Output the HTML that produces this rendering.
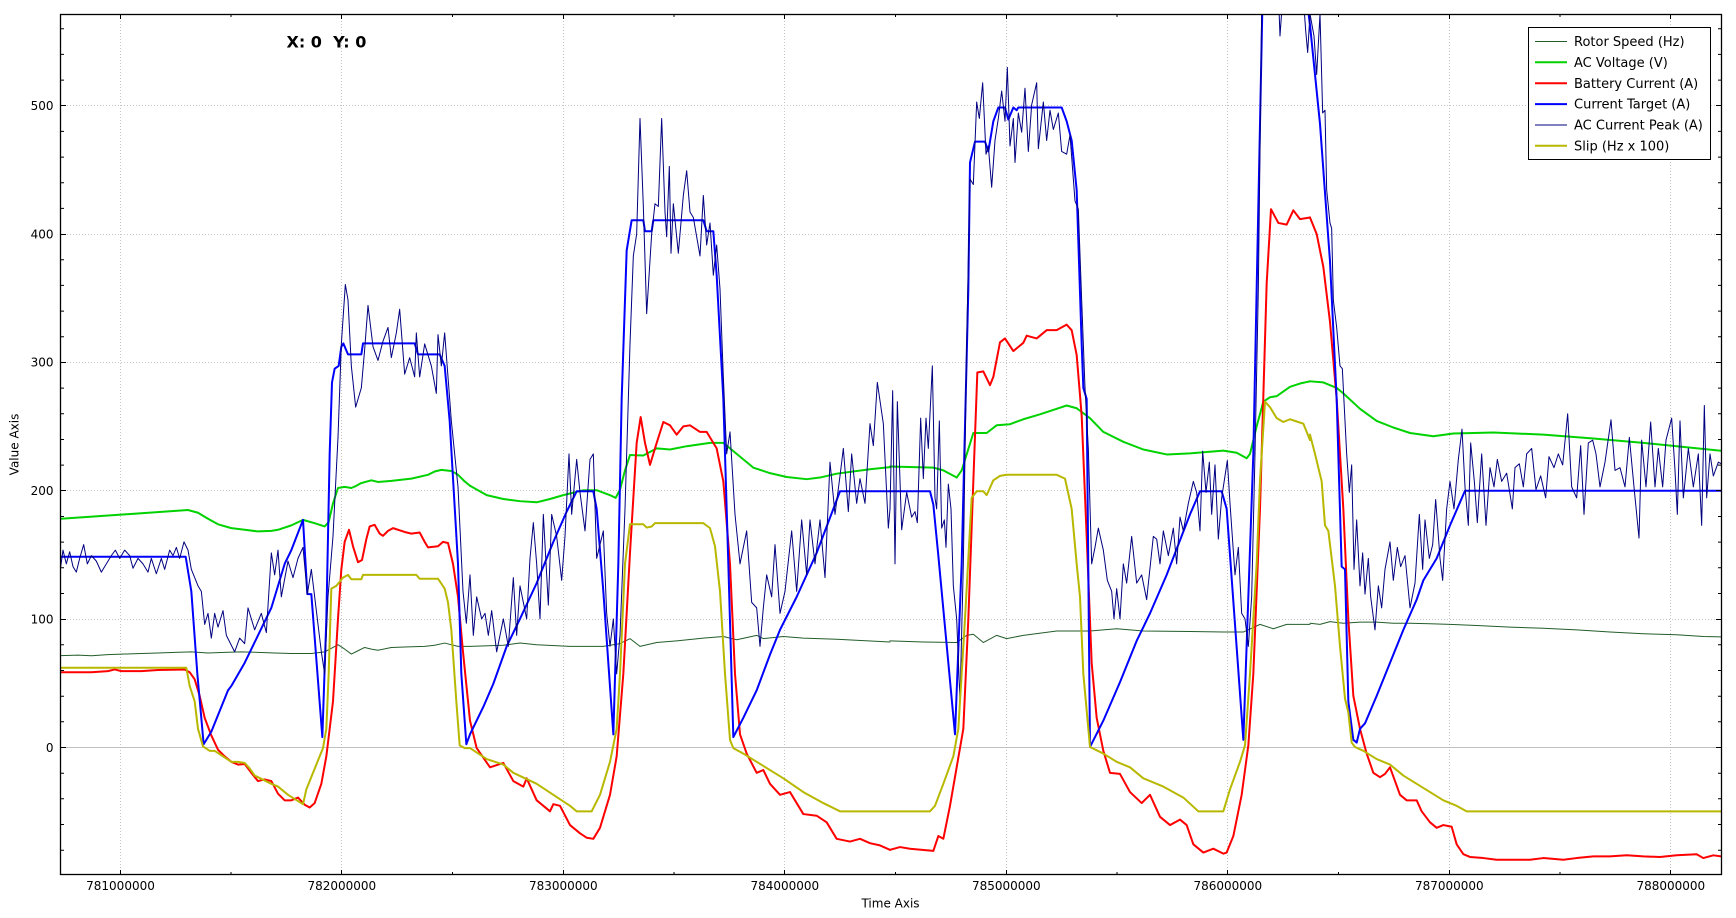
<!DOCTYPE html>
<html><head><meta charset="utf-8"><style>
html,body{margin:0;padding:0;background:#fff;}
svg{display:block;}
text{font-family:"DejaVu Sans","Liberation Sans",sans-serif;fill:#000;}
</style></head><body>
<svg width="1736" height="918" viewBox="0 0 1736 918" xmlns="http://www.w3.org/2000/svg">
<defs><clipPath id="pc"><rect x="61" y="15" width="1660" height="860"/></clipPath></defs>
<rect x="0" y="0" width="1736" height="918" fill="#fff"/>
<!-- grid -->
<g stroke="#c4c4c4" stroke-width="1" stroke-dasharray="1 2" fill="none">
<path d="M120.5 15V875M341.5 15V875M563.5 15V875M784.5 15V875M1006.5 15V875M1227.5 15V875M1449.5 15V875M1670.5 15V875"/>
<path d="M61 619.5H1721M61 490.5H1721M61 362.5H1721M61 234.5H1721M61 105.5H1721"/>
</g>
<path d="M61 747.5H1721" stroke="#c0c0c0" stroke-width="1"/>
<!-- series -->
<g clip-path="url(#pc)" fill="none" stroke-linejoin="round" stroke-linecap="round">
<!-- Region A -->
<g transform="translate(58,14) scale(0.333333,0.549873)">
<polyline vector-effect="non-scaling-stroke" stroke="#235d2a" stroke-width="1" points="7,1167 60,1166 100,1167 150,1165 200,1164 250,1163 300,1162 350,1161 400,1160 450,1162 500,1161 550,1160 600,1161 650,1162 700,1163 760,1163 800,1160 825,1152 840,1147 860,1155 880,1164 900,1158 920,1152 940,1155 960,1157 1000,1152 1050,1151 1100,1150 1130,1148 1160,1144 1200,1150 1236,1150"/>
<polyline vector-effect="non-scaling-stroke" stroke="#00d200" stroke-width="2" points="7,918 200,910 390,902 420,907 450,918 480,928 520,935 560,938 600,941 640,940 660,938 700,930 735,920 770,926 800,932 812,924 825,890 840,862 860,860 880,862 895,858 910,853 940,848 960,851 1000,849 1060,845 1110,838 1130,832 1150,829 1180,831 1200,838 1220,850 1236,858"/>
<polyline vector-effect="non-scaling-stroke" stroke="#ff0000" stroke-width="2" points="7,1197 100,1197 150,1195 170,1192 190,1195 250,1195 300,1193 380,1192 395,1197 410,1210 425,1240 440,1280 460,1312 480,1338 500,1350 520,1360 540,1365 560,1364 580,1380 600,1395 620,1392 640,1395 660,1418 680,1430 700,1430 720,1425 740,1438 755,1443 770,1435 790,1400 805,1350 815,1300 825,1250 840,1100 850,1010 860,960 873,938 885,968 900,997 912,993 925,955 935,932 950,929 965,945 975,949 990,940 1005,935 1040,942 1060,945 1085,943 1100,960 1110,970 1140,968 1155,960 1170,962 1185,1000 1200,1060 1215,1160 1236,1285"/>
<polyline vector-effect="non-scaling-stroke" stroke="#0000ff" stroke-width="2" points="7,987 383,987 400,1050 418,1200 437,1328 460,1305 490,1260 510,1230 520,1222 560,1180 640,1080 680,1000 700,975 735,920 748,1055 760,1055 793,1315 805,1100 815,800 822,670 830,645 842,640 850,605 856,599 870,619 910,619 915,599 1070,599 1080,619 1145,619 1160,640 1175,740 1200,1000 1210,1200 1225,1328 1236,1310"/>
<polyline vector-effect="non-scaling-stroke" stroke="#000080" stroke-width="1" points="7,1010 15,975 25,1000 35,978 45,1005 55,1015 65,990 77,965 88,1000 100,985 115,995 130,1015 145,1000 160,985 172,975 185,990 200,975 215,985 225,1008 240,990 255,1000 270,1015 280,990 295,1018 310,990 320,1010 335,975 345,985 355,970 365,990 378,960 390,975 400,1010 420,1040 430,1050 440,1110 450,1090 460,1135 470,1090 480,1115 495,1085 505,1130 530,1160 545,1135 560,1145 570,1080 590,1120 610,1090 625,1125 640,980 650,1020 660,975 670,1060 690,995 705,1025 720,990 735,970 748,1055 760,1010 770,1060 790,1160 800,1200 810,1060 825,950 840,770 850,600 862,492 870,520 880,640 893,715 910,680 920,610 930,530 945,605 960,630 975,595 990,570 1000,625 1015,580 1025,537 1040,655 1055,625 1070,660 1075,580 1085,660 1100,600 1120,640 1135,690 1140,583 1150,640 1160,580 1180,740 1200,860 1215,1050 1225,1108 1236,1020"/>
<polyline vector-effect="non-scaling-stroke" stroke="#b8b800" stroke-width="2" points="7,1189 385,1189 395,1222 410,1250 420,1300 435,1332 455,1340 470,1340 490,1348 520,1360 540,1360 560,1362 575,1372 590,1385 640,1400 660,1405 690,1420 735,1437 745,1410 765,1380 795,1335 805,1300 812,1200 820,1045 835,1040 855,1025 870,1020 880,1028 910,1028 915,1020 1075,1020 1085,1027 1140,1027 1160,1045 1170,1070 1180,1120 1195,1250 1205,1330 1220,1335 1236,1335"/>
</g>
<!-- Region B -->
<g transform="translate(470,14) scale(0.333333,0.549873)">
<polyline vector-effect="non-scaling-stroke" stroke="#235d2a" stroke-width="1" points="0,1150 100,1148 150,1144 200,1147 300,1150 400,1150 450,1145 480,1136 510,1150 560,1143 620,1140 700,1135 760,1132 800,1138 860,1130 880,1136 940,1132 1000,1135 1100,1137 1260,1142"/>
<polyline vector-effect="non-scaling-stroke" stroke="#00d200" stroke-width="2" points="0,858 50,875 100,882 150,886 200,888 240,882 280,875 340,866 380,866 420,875 437,880 450,865 465,830 480,802 520,803 560,790 600,792 650,786 720,780 760,780 800,800 850,825 900,835 950,842 1010,846 1050,843 1100,836 1200,828 1260,824"/>
<polyline vector-effect="non-scaling-stroke" stroke="#ff0000" stroke-width="2" points="0,1285 20,1335 60,1370 100,1362 130,1395 160,1405 170,1390 200,1430 240,1450 250,1437 270,1440 300,1475 330,1490 350,1498 370,1500 390,1480 420,1420 440,1350 460,1200 480,980 500,780 512,733 525,780 540,820 560,780 580,742 600,748 620,765 640,750 660,748 690,760 710,760 740,790 760,850 780,1000 795,1200 810,1310 830,1345 860,1380 880,1375 900,1400 930,1420 960,1415 1000,1455 1040,1458 1070,1470 1100,1500 1140,1505 1170,1500 1200,1508 1230,1512 1260,1520"/>
<polyline vector-effect="non-scaling-stroke" stroke="#0000ff" stroke-width="2" points="0,1310 40,1260 70,1218 110,1150 150,1100 200,1035 250,960 290,905 320,868 370,868 380,900 400,1050 430,1310 445,1000 455,700 470,430 485,375 520,375 525,395 545,395 550,375 700,375 710,395 730,395 740,475 760,700 775,1000 790,1315 820,1280 860,1230 900,1165 930,1120 980,1060 1040,980 1110,868 1260,868"/>
<polyline vector-effect="non-scaling-stroke" stroke="#000080" stroke-width="1" points="0,1020 10,1130 20,1060 35,1100 45,1090 55,1130 65,1085 80,1160 100,1100 115,1150 130,1025 140,1130 150,1040 170,1100 180,990 190,925 200,1000 210,1100 220,910 235,1075 245,910 260,950 275,1030 285,950 297,800 305,910 320,810 330,870 345,940 360,810 370,800 380,990 400,940 410,1090 420,1150 430,1100 440,1200 450,1130 465,900 480,600 490,440 500,400 510,190 520,350 530,545 545,400 555,345 565,350 575,190 585,360 590,405 598,277 603,435 610,345 625,435 640,330 650,285 660,360 670,370 690,440 700,330 710,420 720,380 730,475 740,420 750,500 760,660 770,800 780,760 795,910 810,1000 830,940 845,1070 860,1080 870,1150 880,1080 890,1020 905,1060 915,965 930,1090 945,1050 965,940 980,1050 995,920 1010,1020 1020,920 1035,1000 1050,920 1065,1025 1080,815 1095,910 1110,840 1120,790 1135,905 1145,800 1160,890 1170,845 1185,890 1200,745 1210,785 1222,670 1240,745 1255,935 1260,900"/>
<polyline vector-effect="non-scaling-stroke" stroke="#b8b800" stroke-width="2" points="0,1335 50,1355 100,1365 130,1380 200,1400 250,1420 300,1440 320,1450 365,1450 390,1420 420,1360 440,1300 450,1200 465,1000 480,928 520,928 530,934 545,932 555,926 700,926 720,935 735,968 750,1050 765,1200 780,1320 790,1335 820,1345 860,1360 900,1375 940,1390 1000,1415 1060,1435 1110,1450 1260,1450"/>
</g>
<!-- Region C -->
<g transform="translate(890,14) scale(0.333333,0.549873)">
<polyline vector-effect="non-scaling-stroke" stroke="#235d2a" stroke-width="1" points="0,1140 100,1142 200,1143 230,1130 250,1128 280,1143 320,1130 350,1136 400,1130 500,1122 600,1122 680,1118 760,1122 900,1123 1000,1124 1060,1124 1110,1110 1150,1118 1190,1110 1260,1110"/>
<polyline vector-effect="non-scaling-stroke" stroke="#00d200" stroke-width="2" points="0,823 130,825 160,830 200,843 215,830 250,762 290,762 320,748 360,746 400,737 450,728 500,718 530,712 560,717 600,735 640,760 700,778 760,792 830,801 900,799 1000,794 1040,798 1070,808 1080,800 1100,750 1120,705 1140,697 1160,695 1200,678 1230,672 1260,668"/>
<polyline vector-effect="non-scaling-stroke" stroke="#ff0000" stroke-width="2" points="0,1520 30,1515 60,1518 130,1522 145,1495 160,1500 180,1440 200,1370 220,1300 235,1100 250,850 262,652 280,650 300,675 310,660 330,597 345,590 370,613 400,598 410,585 440,590 470,575 500,575 530,565 545,575 560,620 575,730 590,950 605,1180 620,1280 640,1340 660,1380 690,1382 720,1415 755,1435 780,1420 810,1460 840,1475 870,1465 890,1475 910,1510 940,1525 970,1518 1000,1527 1010,1525 1030,1495 1055,1420 1075,1330 1090,1200 1110,900 1130,490 1143,355 1165,380 1190,383 1210,357 1230,373 1260,370"/>
<polyline vector-effect="non-scaling-stroke" stroke="#0000ff" stroke-width="2" points="0,868 120,868 130,892 145,985 195,1310 215,1000 235,500 240,270 255,232 285,232 295,250 310,195 325,170 345,170 355,192 370,170 380,175 385,170 515,170 530,195 545,230 560,320 575,600 580,680 590,700 600,1333 640,1285 690,1215 740,1140 780,1090 830,1020 900,910 930,868 995,868 1010,900 1060,1320 1090,800 1100,500 1110,200 1120,-100 1235,-100 1260,20"/>
<polyline vector-effect="non-scaling-stroke" stroke="#000080" stroke-width="1" points="0,900 8,685 15,1000 22,705 35,938 50,870 65,915 75,905 82,925 92,735 100,845 108,735 115,790 127,640 135,880 140,900 148,740 155,935 163,920 168,970 175,855 183,900 190,1040 200,1100 210,1250 220,1000 230,600 240,300 250,310 260,160 268,190 278,125 288,255 295,240 305,315 315,230 325,190 335,140 345,195 352,97 360,240 370,190 375,270 385,180 395,215 405,135 415,250 425,165 440,125 445,245 460,160 470,230 480,175 490,210 505,180 515,250 530,255 540,220 555,340 565,355 575,520 585,680 595,790 605,1000 615,970 625,935 640,975 652,1030 665,1050 672,1100 680,1045 690,1100 700,1000 710,1035 725,950 740,1035 755,1020 770,1065 790,950 800,955 810,1000 820,940 835,985 850,935 860,1000 870,915 880,940 895,890 910,850 920,870 930,940 938,795 948,870 958,815 965,910 975,820 985,955 995,880 1000,860 1012,812 1020,890 1035,1020 1045,970 1055,1090 1065,1100 1075,1150 1085,1060 1095,800 1105,500 1115,0 1125,-60 1165,-40 1170,40 1178,-30 1240,-30 1247,30 1253,70 1260,0"/>
<polyline vector-effect="non-scaling-stroke" stroke="#b8b800" stroke-width="2" points="0,1450 120,1450 135,1440 160,1400 190,1350 205,1300 225,1100 245,880 260,868 280,868 290,875 310,848 330,840 350,838 500,838 525,845 545,900 560,1000 570,1060 580,1200 600,1333 640,1345 680,1360 720,1370 760,1390 820,1405 880,1425 925,1450 1000,1450 1020,1410 1050,1360 1065,1330 1080,1200 1100,1000 1110,848 1125,705 1140,715 1160,735 1180,742 1200,737 1240,745 1260,775"/>
</g>
<!-- Region D -->
<g transform="translate(1310,14) scale(0.333333,0.549873)">
<polyline vector-effect="non-scaling-stroke" stroke="#235d2a" stroke-width="1" points="0,1108 30,1110 60,1105 100,1108 150,1106 200,1106 250,1108 300,1108 360,1109 420,1110 500,1112 600,1115 700,1117 800,1120 900,1124 1000,1127 1100,1129 1180,1132 1245,1133"/>
<polyline vector-effect="non-scaling-stroke" stroke="#00d200" stroke-width="2" points="0,668 40,670 80,680 100,690 150,718 200,740 250,752 300,762 370,768 430,763 550,761 700,765 850,772 1000,780 1100,786 1245,795"/>
<polyline vector-effect="non-scaling-stroke" stroke="#ff0000" stroke-width="2" points="0,370 20,400 40,460 60,560 80,700 100,900 115,1100 130,1240 150,1300 170,1345 190,1380 210,1388 225,1382 240,1370 255,1395 270,1420 290,1430 320,1430 335,1450 360,1470 380,1480 400,1475 425,1478 440,1510 460,1528 480,1533 520,1535 560,1538 600,1538 660,1538 700,1535 760,1538 800,1535 850,1532 900,1532 950,1530 1000,1532 1050,1533 1100,1530 1160,1528 1180,1535 1210,1530 1245,1533"/>
<polyline vector-effect="non-scaling-stroke" stroke="#0000ff" stroke-width="2" points="0,20 30,200 60,450 80,700 95,1005 105,1010 115,1250 130,1320 140,1325 150,1300 165,1290 200,1240 240,1180 280,1120 320,1065 340,1030 380,990 400,960 420,930 465,867 1245,867"/>
<polyline vector-effect="non-scaling-stroke" stroke="#000080" stroke-width="1" points="0,0 12,40 20,110 30,0 38,180 45,175 50,320 60,380 65,390 70,520 80,570 90,640 97,645 110,800 118,870 125,820 132,1010 140,920 150,1040 158,980 165,1055 175,990 182,1060 195,1120 205,1040 215,1080 225,1010 240,960 250,1030 262,970 272,1005 285,985 300,1080 315,1035 328,910 338,1010 345,920 358,990 368,965 377,883 390,990 398,1030 410,900 420,850 432,900 445,810 456,755 465,860 475,930 482,780 493,850 502,925 515,800 528,930 540,825 552,860 562,810 575,850 590,835 607,900 615,825 628,818 640,860 650,800 665,790 678,865 692,840 707,880 717,805 732,825 745,800 758,820 773,727 785,860 800,880 812,785 822,910 835,780 848,775 858,800 870,860 885,815 903,738 915,830 930,825 945,860 958,770 972,860 987,953 995,775 1008,860 1022,742 1035,860 1045,790 1058,860 1068,775 1085,735 1095,830 1102,910 1110,740 1120,880 1135,790 1150,860 1165,800 1175,930 1183,712 1190,880 1200,800 1210,840 1225,815 1240,820"/>
<polyline vector-effect="non-scaling-stroke" stroke="#b8b800" stroke-width="2" points="0,765 15,800 35,850 45,930 55,940 75,1040 90,1150 105,1245 115,1270 125,1325 135,1333 160,1340 200,1355 240,1365 280,1385 320,1400 360,1415 400,1430 440,1440 470,1450 1245,1450"/>
</g>
</g>
<!-- axes frame -->
<rect x="60.5" y="14.5" width="1661" height="860" fill="none" stroke="#000" stroke-width="1.3"/>
<!-- ticks -->
<g stroke="#000" stroke-width="1" fill="none">
<path d="M61 619.5h5M61 490.5h5M61 362.5h5M61 234.5h5M61 105.5h5M61 747.5h5M1721 619.5h-5M1721 490.5h-5M1721 362.5h-5M1721 234.5h-5M1721 105.5h-5M1721 747.5h-5"/>
<path d="M61 850.2h3M61 824.5h3M61 798.8h3M61 773.2h3M61 721.8h3M61 696.2h3M61 670.5h3M61 644.8h3M61 593.5h3M61 567.8h3M61 542.1h3M61 516.5h3M61 465.1h3M61 439.5h3M61 413.8h3M61 388.1h3M61 336.8h3M61 311.1h3M61 285.4h3M61 259.8h3M61 208.4h3M61 182.8h3M61 157.1h3M61 131.4h3M61 80.1h3M61 54.4h3M61 28.7h3"/>
<path d="M1721 850.2h-3M1721 824.5h-3M1721 798.8h-3M1721 773.2h-3M1721 721.8h-3M1721 696.2h-3M1721 670.5h-3M1721 644.8h-3M1721 593.5h-3M1721 567.8h-3M1721 542.1h-3M1721 516.5h-3M1721 465.1h-3M1721 439.5h-3M1721 413.8h-3M1721 388.1h-3M1721 336.8h-3M1721 311.1h-3M1721 285.4h-3M1721 259.8h-3M1721 208.4h-3M1721 182.8h-3M1721 157.1h-3M1721 131.4h-3M1721 80.1h-3M1721 54.4h-3M1721 28.7h-3"/>
<path d="M120.5 875v-5M341.5 875v-5M563.5 875v-5M784.5 875v-5M1006.5 875v-5M1227.5 875v-5M1449.5 875v-5M1670.5 875v-5M120.5 14v5M341.5 14v5M563.5 14v5M784.5 14v5M1006.5 14v5M1227.5 14v5M1449.5 14v5M1670.5 14v5"/>
<path d="M231 875v-3M452.5 875v-3M674 875v-3M895.5 875v-3M1117 875v-3M1338.5 875v-3M1560 875v-3M231 14v3M452.5 14v3M674 14v3M895.5 14v3M1117 14v3M1338.5 14v3M1560 14v3"/>
</g>
<!-- y tick labels -->
<g font-size="12" text-anchor="end">
<text x="53.5" y="751.8">0</text>
<text x="53.5" y="623.4">100</text>
<text x="53.5" y="495.1">200</text>
<text x="53.5" y="366.7">300</text>
<text x="53.5" y="238.4">400</text>
<text x="53.5" y="110">500</text>
</g>
<!-- x tick labels -->
<g font-size="12" text-anchor="middle">
<text x="120.5" y="890">781000000</text>
<text x="341.8" y="890">782000000</text>
<text x="563.3" y="890">783000000</text>
<text x="784.8" y="890">784000000</text>
<text x="1006.3" y="890">785000000</text>
<text x="1227.8" y="890">786000000</text>
<text x="1449.3" y="890">787000000</text>
<text x="1670.8" y="890">788000000</text>
</g>
<text x="890.5" y="907.5" font-size="12" text-anchor="middle">Time Axis</text>
<text transform="translate(18.5,444.5) rotate(-90)" font-size="12" text-anchor="middle">Value Axis</text>
<text x="286.5" y="47.5" font-size="16" font-weight="bold" xml:space="preserve">X: 0  Y: 0</text>
<!-- legend -->
<rect x="1528.5" y="27.5" width="182" height="132" fill="#fff" stroke="#000" stroke-width="1"/>
<g fill="none">
<path d="M1535 41.5H1567" stroke="#235d2a" stroke-width="1"/>
<path d="M1535 62.3H1567" stroke="#00d200" stroke-width="2"/>
<path d="M1535 83.2H1567" stroke="#ff0000" stroke-width="2"/>
<path d="M1535 104.1H1567" stroke="#0000ff" stroke-width="2"/>
<path d="M1535 125H1567" stroke="#000080" stroke-width="1"/>
<path d="M1535 145.8H1567" stroke="#b8b800" stroke-width="2"/>
</g>
<g font-size="13">
<text x="1574" y="46">Rotor Speed (Hz)</text>
<text x="1574" y="66.9">AC Voltage (V)</text>
<text x="1574" y="87.8">Battery Current (A)</text>
<text x="1574" y="108.7">Current Target (A)</text>
<text x="1574" y="129.6">AC Current Peak (A)</text>
<text x="1574" y="150.4">Slip (Hz x 100)</text>
</g>
</svg>
</body></html>
